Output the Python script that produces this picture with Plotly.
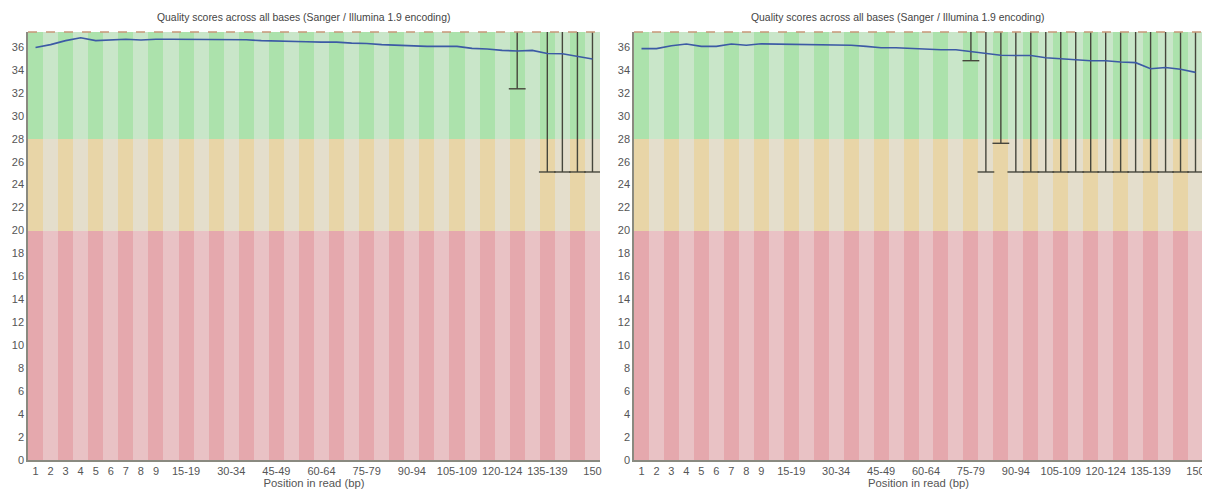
import plotly.graph_objects as go

# ---------------- data ----------------
CATEGORIES = ["1", "2", "3", "4", "5", "6", "7", "8", "9",
              "10-14", "15-19", "20-24", "25-29", "30-34", "35-39", "40-44",
              "45-49", "50-54", "55-59", "60-64", "65-69", "70-74", "75-79",
              "80-84", "85-89", "90-94", "95-99", "100-104", "105-109",
              "110-114", "115-119", "120-124", "125-129", "130-134",
              "135-139", "140-144", "145-149", "150"]

TICK_LABELS = ["1", "2", "3", "4", "5", "6", "7", "8", "9", "15-19", "30-34",
               "45-49", "60-64", "75-79", "90-94", "105-109", "120-124",
               "135-139", "150"]

Y_TICKS = [0, 2, 4, 6, 8, 10, 12, 14, 16, 18, 20, 22, 24, 26, 28, 30, 32, 34, 36]

LEFT_MEAN = [35.95, 36.2, 36.55, 36.8, 36.55, 36.6, 36.67, 36.6, 36.67, 36.67,
             36.67, 36.67, 36.67, 36.65, 36.62, 36.55, 36.5, 36.45, 36.45,
             36.42, 36.42, 36.33, 36.3, 36.2, 36.15, 36.08, 36.05, 36.05,
             36.05, 35.87, 35.82, 35.7, 35.65, 35.7, 35.43, 35.4, 35.18, 34.95]

RIGHT_MEAN = [35.85, 35.85, 36.1, 36.25, 36.05, 36.05, 36.25, 36.15, 36.27,
              36.25, 36.23, 36.23, 36.15, 36.15, 36.15, 36.05, 35.93, 35.93,
              35.85, 35.82, 35.75, 35.75, 35.6, 35.4, 35.28, 35.25, 35.25,
              35.05, 34.97, 34.83, 34.8, 34.8, 34.68, 34.63, 34.1, 34.2,
              34.05, 33.78]

WHISKER_TOP = 37.3

LEFT_WHISKER_CATS = ["125-129", "135-139", "140-144", "145-149", "150"]
LEFT_WHISKER_LOW = [32.35, 25.1, 25.1, 25.1, 25.1]

RIGHT_WHISKER_CATS = ["75-79", "80-84", "85-89", "90-94", "95-99", "100-104",
                      "105-109", "110-114", "115-119", "120-124", "125-129",
                      "130-134", "135-139", "140-144", "145-149", "150"]
RIGHT_WHISKER_LOW = [34.8, 25.1, 27.6, 25.1, 25.1, 25.1, 25.1, 25.1, 25.1,
                     25.1, 25.1, 25.1, 25.1, 25.1, 25.1, 25.1]

BAND_EDGES = [0, 20, 28, 37.3]

TITLE = "Quality scores across all bases (Sanger / Illumina 1.9 encoding)"
X_TITLE = "Position in read (bp)"

# ---------------- style ----------------
BAND_COLORS = [  # (dark, light) for red, orange, green
    ("rgb(229,168,173)", "rgb(233,194,197)"),
    ("rgb(232,213,167)", "rgb(228,222,204)"),
    ("rgb(172,226,172)", "rgb(201,230,201)"),
]
FONT = "Liberation Sans, Arial, sans-serif"
OFF = 8  # page body margin
W, H = 1210 - OFF, 493 - OFF
PLOT_TOP, PLOT_BOTTOM = 32 - OFF, 460 - OFF
X_DOMAINS = [((28 - OFF) / W, (600 - OFF) / W), ((634 - OFF) / W, (1203 - OFF) / W)]
Y_DOMAIN = (1 - PLOT_BOTTOM / H, 1 - PLOT_TOP / H)

fig = go.Figure()

panels = [
    ("x", "y", LEFT_MEAN, LEFT_WHISKER_CATS, LEFT_WHISKER_LOW),
    ("x2", "y2", RIGHT_MEAN, RIGHT_WHISKER_CATS, RIGHT_WHISKER_LOW),
]

for xa, ya, mean, wcats, wlow in panels:
    # background stripes
    for b in range(3):
        lo, hi = BAND_EDGES[b], BAND_EDGES[b + 1]
        dark, light = BAND_COLORS[b]
        fig.add_trace(go.Bar(
            x=CATEGORIES, y=[hi - lo] * len(CATEGORIES), base=[lo] * len(CATEGORIES),
            width=1.0,
            marker=dict(color=[dark if i % 2 == 0 else light for i in range(len(CATEGORIES))],
                        line=dict(width=0)),
            xaxis=xa, yaxis=ya, showlegend=False, hoverinfo="skip"))
    # whiskers
    wx, wy = [], []
    for c, lo in zip(wcats, wlow):
        wx += [c, c, None]
        wy += [lo, WHISKER_TOP, None]
    fig.add_trace(go.Scatter(x=wx, y=wy, mode="lines",
                             line=dict(color="rgb(70,70,60)", width=1.4),
                             xaxis=xa, yaxis=ya, showlegend=False, hoverinfo="skip"))
    fig.add_trace(go.Scatter(x=wcats, y=wlow, mode="markers",
                             marker=dict(symbol="line-ew", size=12,
                                         line=dict(color="rgb(70,70,60)", width=1.4)),
                             xaxis=xa, yaxis=ya, showlegend=False, hoverinfo="skip"))
    # mean line
    fig.add_trace(go.Scatter(x=CATEGORIES, y=mean, mode="lines",
                             line=dict(color="rgb(60,90,165)", width=1.6),
                             xaxis=xa, yaxis=ya, showlegend=False))

axis_common = dict(
    type="category", categoryorder="array", categoryarray=CATEGORIES,
    range=[-0.5, len(CATEGORIES) - 0.5], automargin=False,
    ticklabeloverflow="allow",
    tickmode="array", tickvals=TICK_LABELS, ticktext=TICK_LABELS,
    tickfont=dict(family=FONT, size=11, color="#555555"),
    showgrid=False, zeroline=False, ticks="", showline=True,
    linecolor="#8a8a80", linewidth=1.5,
    title=dict(text=X_TITLE, font=dict(family=FONT, size=11.3, color="#555555"),
               standoff=2),
)
yaxis_common = dict(
    range=[0, BAND_EDGES[-1]], tickmode="array", tickvals=Y_TICKS,
    automargin=False, ticklabeloverflow="allow",
    tickfont=dict(family=FONT, size=11, color="#555555"),
    showgrid=False, zeroline=False, ticks="", showline=True,
    linecolor="#8a8a80", linewidth=1.5, domain=list(Y_DOMAIN),
)

fig.update_layout(
    width=W, height=H, margin=dict(l=0, r=0, t=0, b=0, autoexpand=False),
    paper_bgcolor="white", plot_bgcolor="white",
    barmode="overlay", bargap=0,
    xaxis=dict(axis_common, domain=list(X_DOMAINS[0]), anchor="y"),
    xaxis2=dict(axis_common, domain=list(X_DOMAINS[1]), anchor="y2"),
    yaxis=dict(yaxis_common, anchor="x"),
    yaxis2=dict(yaxis_common, anchor="x2"),
)

# titles
for cx in ((303 - OFF) / W, (897 - OFF) / W):
    fig.add_annotation(text=TITLE, x=cx, y=1 - (17 - OFF) / H, xref="paper", yref="paper",
                       showarrow=False, xanchor="center", yanchor="middle",
                       font=dict(family=FONT, size=10.4, color="#444444"))

# dashed top border
for d in X_DOMAINS:
    fig.add_shape(type="line", xref="paper", yref="paper",
                  x0=d[0], x1=d[1], y0=Y_DOMAIN[1], y1=Y_DOMAIN[1],
                  line=dict(color="rgb(200,150,120)", width=1.5, dash="dash"))

fig.write_html("out.html")
